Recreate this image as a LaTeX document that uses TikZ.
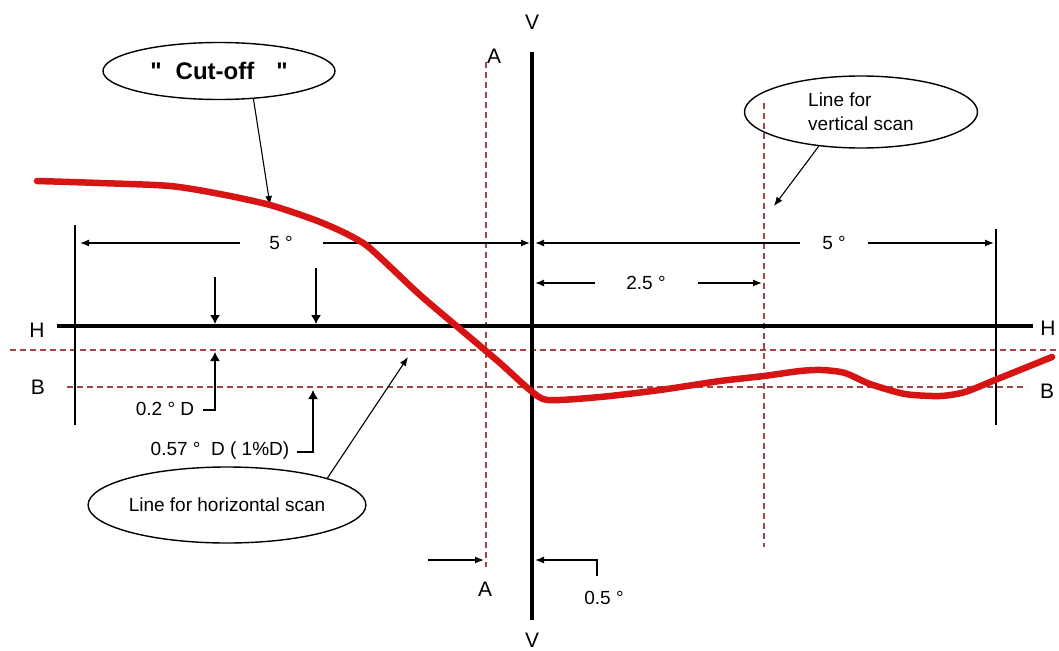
\documentclass[tikz,border=0pt]{standalone}
\usepackage{fontspec}
\setmainfont{Liberation Sans}[Ligatures=TeXOff]
\usetikzlibrary{shapes.geometric,arrows.meta}
\definecolor{scancol}{RGB}{160,70,70}
\definecolor{curvered}{RGB}{215,20,20}
\begin{document}
\begin{tikzpicture}[x=1pt,y=-1pt,
  lbl/.style={font=\fontsize{19}{24}\selectfont, inner sep=1pt},
  axlbl/.style={font=\fontsize{21}{24}\selectfont, inner sep=0pt},
  axisline/.style={line width=3.2pt, black},
  thinline/.style={line width=1.3pt, black},
  boundline/.style={line width=1.5pt, black},
  dim/.style={thinline, -{Latex[length=9pt,width=7pt]}},
  dimbig/.style={thinline, -{Latex[length=9pt,width=10pt]}},
  leader/.style={line width=1.1pt, black, -{Latex[length=9pt,width=7pt]}},
  scanline/.style={line width=1.2pt, scancol, dash pattern=on 6pt off 4pt},
  bubble/.style={ellipse, draw, line width=1.4pt, inner sep=0pt},
  cutcurve/.style={line width=6.5pt, curvered, line cap=round, line join=round}
]
\useasboundingbox (0,0) rectangle (1059,650);

% dashed reference lines
\coordinate (u1) at (10,350);   \coordinate (u2) at (1059,350);
\coordinate (b1) at (67,387);   \coordinate (b2) at (1027,387);
\coordinate (a1) at (486,62);   \coordinate (a2) at (486,567);
\coordinate (s1) at (764,103);  \coordinate (s2) at (764,547);
\draw[scanline] (u1) -- (u2);
\draw[scanline] (b1) -- (b2);
\draw[scanline] (a1) -- (a2);
\draw[scanline] (s1) -- (s2);

% main axes
\coordinate (vtop) at (532,52);  \coordinate (vbot) at (532,620);
\coordinate (hL) at (57,326);    \coordinate (hR) at (1033,326);
\draw[axisline] (vtop) -- (vbot);
\draw[axisline] (hL) -- (hR);

% bounds
\coordinate (lb1) at (75,225);  \coordinate (lb2) at (75,425);
\coordinate (rb1) at (996,229); \coordinate (rb2) at (996,425);
\draw[boundline] (lb1) -- (lb2);
\draw[boundline] (rb1) -- (rb2);

% axis labels
\node[axlbl] (Vt) at (532,22) {V};
\node[axlbl] (Vb) at (532,640) {V};
\node[axlbl] (Hl) at (37,330) {H};
\node[axlbl] (Hr) at (1048,328) {H};
\node[axlbl] (Bl) at (38,387) {B};
\node[axlbl] (Br) at (1047,391) {B};
\node[axlbl] (At) at (494,56) {A};
\node[axlbl] (Ab) at (485,589) {A};

% 5 degree dimensions
\node[lbl] (d5l) at (281,243) {5 °};
\node[lbl] (d5r) at (834,243) {5 °};
\coordinate (d5la) at (240,243); \coordinate (d5lt) at (80,243);
\coordinate (d5lb) at (323,243); \coordinate (d5lv) at (530,243);
\coordinate (d5ra) at (800,243); \coordinate (d5rv) at (535,243);
\coordinate (d5rb) at (868,243); \coordinate (d5rt) at (994,243);
\draw[dim] (d5la) -- (d5lt);
\draw[dim] (d5lb) -- (d5lv);
\draw[dim] (d5ra) -- (d5rv);
\draw[dim] (d5rb) -- (d5rt);

% 2.5 degree
\node[lbl] (d25) at (646,283) {2.5 °};
\coordinate (d25a) at (595,283); \coordinate (d25v) at (535,283);
\coordinate (d25b) at (698,283); \coordinate (d25s) at (762,283);
\draw[dim] (d25a) -- (d25v);
\draw[dim] (d25b) -- (d25s);

% 0.5 degree
\node[lbl] (d05) at (604,598) {0.5 °};
\coordinate (d05a) at (428,560); \coordinate (d05t) at (484,560);
\coordinate (d05c) at (597,576); \coordinate (d05k) at (597,560);
\coordinate (d05v) at (535,560);
\draw[dim] (d05a) -- (d05t);
\draw[dim] (d05c) -- (d05k) -- (d05v);

% arrows onto H
\coordinate (h1a) at (215,277); \coordinate (h1t) at (215,324);
\coordinate (h2a) at (316,268); \coordinate (h2t) at (316,324);
\draw[dimbig] (h1a) -- (h1t);
\draw[dimbig] (h2a) -- (h2t);

% 0.2 D
\node[lbl] (d02) at (165,409) {0.2 ° D};
\coordinate (d02a) at (203,410); \coordinate (d02k) at (215,410);
\coordinate (d02t) at (215,352);
\draw[dimbig] (d02a) -- (d02k) -- (d02t);

% 0.57 D
\node[lbl] (d057) at (220,451) {0.57 °\ \ D ( 1\%D)};
\coordinate (d057a) at (297,452); \coordinate (d057k) at (313,452);
\coordinate (d057t) at (313,390);
\draw[dimbig] (d057a) -- (d057k) -- (d057t);

% bubbles
\node[bubble, minimum width=232pt, minimum height=57pt,
      font=\bfseries\fontsize{24}{28}\selectfont] (cut) at (219,71) {"\hspace{14pt}Cut-off\hspace{22pt}"};
\node[bubble, lbl, inner sep=0pt, minimum width=269pt, minimum height=76pt] (hs) at (227,505) {Line for horizontal scan};
\node[bubble, lbl, inner sep=0pt, align=left, minimum width=233pt, minimum height=72pt] (vs) at (861,112) {Line for\\vertical scan};

\coordinate (cutt) at (270,205);
\coordinate (hst) at (408,357);
\coordinate (vst) at (774,206);
\draw[leader] (cut.-39) -- (cutt);
\draw[leader] (hs.15) -- (hst);
\draw[leader] (vs.219) -- (vst);

% cut-off curve
\draw[cutcurve] plot[smooth, tension=0.45] coordinates {
 (37,181) (100,183) (170,186) (220,194) (270,205) (315,220) (345,233)
 (366,245) (385,262) (420,295) (460,329) (500,363) (530,390) (548,400)
 (600,397) (660,390) (720,381) (764,376) (800,371) (822,370) (845,373)
 (870,384) (905,394) (940,396) (965,392) (995,380) (1052,357)};
\end{tikzpicture}
\end{document}
